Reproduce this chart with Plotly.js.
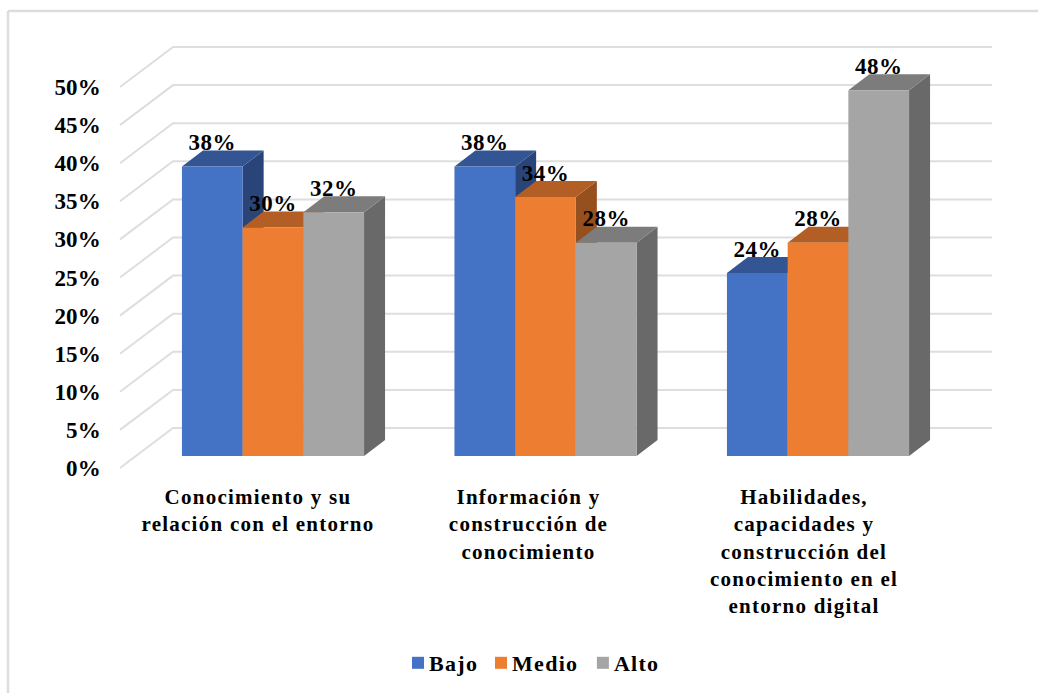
<!DOCTYPE html>
<html><head><meta charset="utf-8">
<script src="https://cdn.plot.ly/plotly-3.0.1.min.js"></script>
<style>html,body{margin:0;padding:0;background:#fff}#c{width:1038px;height:693px}
.xtick text{letter-spacing:1.25px}
.ytick text{letter-spacing:0.2px}
.textpoint text{letter-spacing:0.5px}
.legend text{letter-spacing:1.3px}
.legend .legendpoints{transform:translateX(9px)}
.legend .traces:nth-child(2) > *{transform:translateX(-6px)}
.legend .traces:nth-child(2) > .legendpoints{transform:translateX(3px)}
.legend .traces:nth-child(3) > *{transform:translateX(-9px)}
.legend .traces:nth-child(3) > .legendpoints{transform:translateX(0px)}
</style>
</head><body><div id="c"></div>
<script>
// ---- chart values ----
const categories = ["Conocimiento y su<br>relación con el entorno",
  "Información y<br>construcción de<br>conocimiento",
  "Habilidades,<br>capacidades y<br>construcción del<br>conocimiento en el<br>entorno digital"];
const seriesNames = ["Bajo", "Medio", "Alto"];
const bajo = [38, 38, 24];
const medio = [30, 34, 28];
const alto = [32, 28, 48];
const tickValues = [0, 5, 10, 15, 20, 25, 30, 35, 40, 45, 50];

// ---- styling ----
const frontColors = ["#4472C4", "#ED7D31", "#A5A5A5"];
const topColors = ["#335593", "#B25E25", "#7C7C7C"];
const sideColors = ["#294478", "#964F1F", "#696969"];
const gridColor = "#DEDEDE";
const FONT = "Liberation Serif";

// ---- projection geometry (pixels on the page) ----
const W = 1038, H = 693, L = 102, R = 992, T = 20, B = 480;
const catStep = 272.5, pxPerUnit = 7.62;
const barZero = 456, wallFrontZero = 468, wallBackZero = 428;
const firstCatCentre = 273, firstLabelCentre = 259, barPx = 60.7;
const wallLeftPx = 120, wallBackPx = 173, depthX = 21, depthY = 16;
const labelNudge = [-1, -3, 0];

const labelU = px => (px - firstLabelCentre) / catStep;   // px -> label x axis
const wallLift = (wallFrontZero - wallBackZero) / pxPerUnit;
const dU = depthX / catStep, dV = depthY / pxPerUnit, barU = barPx / catStep;
const series = [bajo, medio, alto];

const traces = [];

// wall grid lines, drawn from the tick values through the axes
const gx = [], gy = [];
tickValues.forEach(v => {
  gx.push(labelU(wallLeftPx), labelU(wallBackPx), labelU(R), null);
  gy.push(v, v + wallLift, v + wallLift, null);
});
traces.push({type:"scatter", mode:"lines", x:gx, y:gy, xaxis:"x", yaxis:"y",
  line:{color:gridColor, width:2}, hoverinfo:"skip", showlegend:false});

// side and top faces of every bar, painted left to right
const catOrigin = labelU(firstCatCentre);
categories.forEach((c, i) => {
  series.forEach((vals, j) => {
    const v = vals[i];
    const l = i + catOrigin + (j - 1.5) * barU, r = l + barU;
    traces.push({type:"scatter", mode:"lines", fill:"toself", fillcolor:sideColors[j],
      x:[r, r + dU, r + dU, r, r], y:[0, dV, v + dV, v, 0],
      xaxis:"x", yaxis:"y2", line:{width:0, color:sideColors[j]}, hoverinfo:"skip", showlegend:false});
    traces.push({type:"scatter", mode:"lines", fill:"toself", fillcolor:topColors[j],
      x:[l, r, r + dU, l + dU, l], y:[v, v, v + dV, v + dV, v],
      xaxis:"x", yaxis:"y2", line:{width:0, color:topColors[j]}, hoverinfo:"skip", showlegend:false});
  });
});

// value labels
const lx = [], ly = [], lt = [];
categories.forEach((c, i) => series.forEach((vals, j) => {
  lx.push(i + catOrigin + (j - 1) * barU);
  ly.push(vals[i] + dV + 6 / pxPerUnit);
  lt.push(vals[i] + "%");
}));
traces.push({type:"scatter", mode:"text", x:lx, y:ly, text:lt, textposition:"middle center",
  textfont:{family:FONT, size:23, color:"#000", weight:700}, cliponaxis:false,
  xaxis:"x", yaxis:"y2", hoverinfo:"skip", showlegend:false});

// front faces: real grouped bars
series.forEach((vals, j) => traces.push({type:"bar", name:seriesNames[j], x:categories, y:vals,
  xaxis:"x2", yaxis:"y2", marker:{color:frontColors[j], line:{width:0}}}));

const layout = {
  width:W, height:H, paper_bgcolor:"#fff", plot_bgcolor:"rgba(0,0,0,0)",
  margin:{l:L, r:W - R, t:T, b:H - B, pad:0},
  barmode:"group", bargap:1 - 3 * barPx / catStep, bargroupgap:0,
  font:{family:FONT, color:"#000", size:20, weight:700},
  xaxis:{type:"linear", range:[labelU(L), labelU(R)], tickmode:"array",
    tickvals:categories.map((c, i) => i + labelNudge[i] / catStep), ticktext:categories,
    showgrid:false, zeroline:false, showline:false, ticks:"", ticklabelstandoff:2,
    tickangle:0, tickfont:{family:FONT, size:21, color:"#000", weight:700}, fixedrange:true},
  xaxis2:{type:"category", overlaying:"x", anchor:"y2", categoryorder:"array", categoryarray:categories,
    range:[(L - firstCatCentre) / catStep, (R - firstCatCentre) / catStep],
    visible:false, fixedrange:true},
  yaxis:{range:[(wallFrontZero - B) / pxPerUnit, (wallFrontZero - T) / pxPerUnit], tickmode:"array",
    tickvals:tickValues, ticktext:tickValues.map(v => v + "%"), showgrid:false, zeroline:false, showline:false,
    tickfont:{family:FONT, size:23, color:"#000", weight:700}, fixedrange:true},
  yaxis2:{range:[(barZero - B) / pxPerUnit, (barZero - T) / pxPerUnit], overlaying:"y", anchor:"x",
    visible:false, fixedrange:true},
  legend:{orientation:"h", x:0.5 + 10 / W, xref:"container", xanchor:"center", y:(H - 642) / H, yref:"container", yanchor:"top",
    font:{family:FONT, size:22, color:"#000", weight:700}, bgcolor:"rgba(0,0,0,0)", traceorder:"normal"},
  showlegend:true,
  shapes:[
    {type:"line", xref:"paper", yref:"paper", layer:"below", x0:(8 - L) / (R - L), x1:(W - L) / (R - L),
      y0:(B - 11) / (B - T), y1:(B - 11) / (B - T), line:{color:"#DDDDDD", width:2.5}},
    {type:"line", xref:"paper", yref:"paper", layer:"below", x0:(8 - L) / (R - L), x1:(8 - L) / (R - L),
      y0:(B - 11) / (B - T), y1:(B - H) / (B - T), line:{color:"#DDDDDD", width:2.5}}
  ]
};
Plotly.newPlot("c", traces, layout, {displayModeBar:false, staticPlot:true});
</script></body></html>
